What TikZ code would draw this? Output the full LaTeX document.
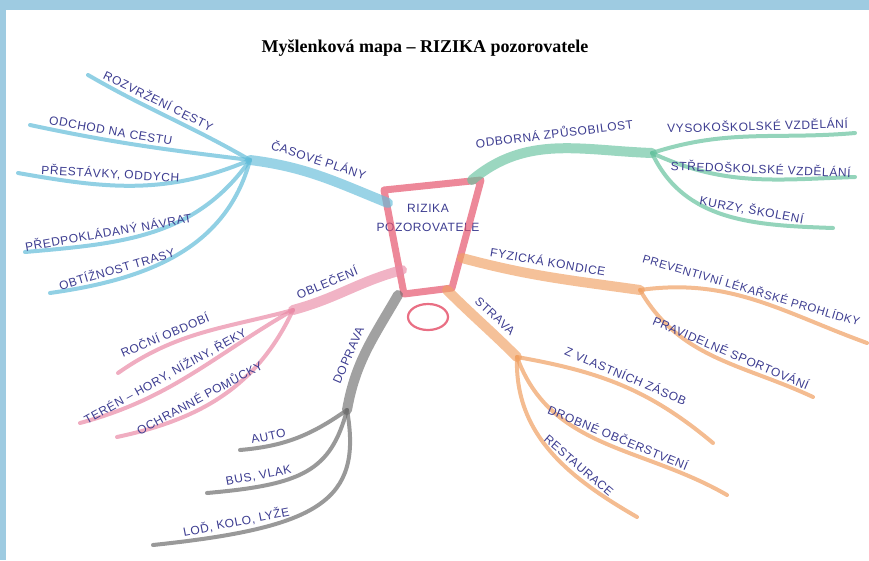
\documentclass[tikz,border=0pt]{standalone}
\usepackage{fontspec}
\setmainfont{Liberation Serif}
\newfontfamily\handfont[LetterSpace=5]{Liberation Sans}
\usetikzlibrary{positioning,calc}
\definecolor{framebg}{HTML}{9ECBE1}
\definecolor{ink}{HTML}{3C3C90}
\definecolor{mapblue}{HTML}{62BCD9}
\definecolor{mapgreen}{HTML}{66C29E}
\definecolor{maporange}{HTML}{F0A062}
\definecolor{mappink}{HTML}{E98AA6}
\definecolor{mapgray}{HTML}{6E6E6E}
\definecolor{mapred}{HTML}{E5566E}

\begin{document}
\begin{tikzpicture}[x=1pt, y=-1pt,
    hand/.style={font=\handfont\fontsize{12}{14}\selectfont, text=ink, inner sep=2pt},
    lab/.style={hand, pos=#1, above=1.5pt, sloped},
    tlab/.style={hand, pos=#1, above=3pt, sloped},
    trunk/.style={draw=#1, line width=10pt, line cap=round, draw opacity=0.65},
    twig/.style={draw=#1, line width=4pt, line cap=round, draw opacity=0.7},
]
\useasboundingbox (0,0) rectangle (869,560);

% === Frame and title ===
\fill[framebg] (0,0) rectangle (869,10);
\fill[framebg] (0,0) rectangle (6,560);
\node[font=\bfseries\fontsize{18}{20}\selectfont] (title) at (425,48) {Myšlenková mapa – RIZIKA pozorovatele};

% === Centre: RIZIKA pozorovatele ===
\node[hand, align=center] (rizika) at (428,218) {RIZIKA\\[5pt]POZOROVATELE};
\coordinate (tl) at (384,190);
\coordinate (tr) at (481,180);
\coordinate (br) at (452,288);
\coordinate (bl) at (404,294);
\draw[mapred, line width=7pt, draw opacity=0.7, line join=round] (tl) -- (tr) -- (br) -- (bl) -- cycle;
\draw[mapred, line width=2.2pt, draw opacity=0.85] (428,317) ellipse [x radius=20, y radius=13];

% branch roots on the centre
\coordinate (cBlue) at (388,203);
\coordinate (cGreen) at (472,180);
\coordinate (cFyz) at (462,258);
\coordinate (cStrava) at (447,290);
\coordinate (cPink) at (402,270);
\coordinate (cGray) at (398,295);

% === Blue: casove plany ===
\coordinate (hubBlue) at (250,160);
\coordinate (eRozvrzeni) at (88,75);
\coordinate (eOdchod) at (30,125);
\coordinate (ePrestavky) at (18,173);
\coordinate (eNavrat) at (25,252);
\coordinate (eObtiznost) at (50,293);
\draw[trunk=mapblue] (cBlue) to[out=158, in=-7] node[tlab=0.55] (casove) {ČASOVÉ PLÁNY} (hubBlue);
\draw[twig=mapblue] (hubBlue) to[out=150, in=-30] node[lab=0.6] (rozvrzeni) {ROZVRŽENÍ CESTY} (eRozvrzeni);
\draw[twig=mapblue] (hubBlue) to[out=173, in=-12] node[lab=0.65] (odchod) {ODCHOD NA CESTU} (eOdchod);
\draw[twig=mapblue] (hubBlue) to[out=203, in=-10] node[lab=0.62] (prestavky) {PŘESTÁVKY, ODDYCH} (ePrestavky);
\draw[twig=mapblue] (hubBlue) to[out=235, in=5] node[lab=0.68] (navrat) {PŘEDPOKLÁDANÝ NÁVRAT} (eNavrat);
\draw[twig=mapblue] (hubBlue) to[out=255, in=8] node[lab=0.74] (obtiznost) {OBTÍŽNOST TRASY} (eObtiznost);

% === Green: odborna zpusobilost ===
\coordinate (hubGreen) at (652,153);
\coordinate (eVysoka) at (855,133);
\coordinate (eStredni) at (855,177);
\coordinate (eKurzy) at (833,228);
\draw[trunk=mapgreen] (cGreen) to[out=40, in=178] node[hand, pos=0.5, above=3pt, rotate=7] (odborna) {ODBORNÁ ZPŮSOBILOST} (hubGreen);
\draw[twig=mapgreen] (hubGreen) to[out=18, in=185] node[lab=0.53] (vysokoskolske) {VYSOKOŠKOLSKÉ VZDĚLÁNÍ} (eVysoka);
\draw[twig=mapgreen] (hubGreen) to[out=-25, in=182] node[lab=0.55] (stredoskolske) {STŘEDOŠKOLSKÉ VZDĚLÁNÍ} (eStredni);
\draw[twig=mapgreen] (hubGreen) to[out=-65, in=178] node[lab=0.62] (kurzy) {KURZY, ŠKOLENÍ} (eKurzy);

% === Orange: fyzicka kondice, strava ===
\coordinate (hubFyz) at (640,290);
\coordinate (ePrevence) at (867,343);
\coordinate (eSport) at (813,397);
\coordinate (hubStrava) at (517,357);
\coordinate (eZasoby) at (713,443);
\coordinate (eDrobne) at (727,495);
\coordinate (eRestaurace) at (637,517);
\draw[trunk=maporange] (cFyz) to[out=-15, in=172] node[tlab=0.47] (fyzicka) {FYZICKÁ KONDICE} (hubFyz);
\draw[twig=maporange] (hubFyz) to[out=8, in=160] node[hand, pos=0.47, above=0pt, sloped, font=\handfont\fontsize{11.5}{13}\selectfont] (preventivni) {PREVENTIVNÍ LÉKAŘSKÉ PROHLÍDKY} (ePrevence);
\draw[twig=maporange] (hubFyz) to[out=-60, in=155] node[lab=0.57] (pravidelne) {PRAVIDELNÉ SPORTOVÁNÍ} (eSport);
\draw[trunk=maporange] (cStrava) to[out=-45, in=135] node[tlab=0.55] (strava) {STRAVA} (hubStrava);
\draw[twig=maporange] (hubStrava) to[out=-10, in=140] node[lab=0.5] (zasoby) {Z VLASTNÍCH ZÁSOB} (eZasoby);
\draw[twig=maporange] (hubStrava) to[out=-70, in=150] node[lab=0.55] (drobne) {DROBNÉ OBČERSTVENÍ} (eDrobne);
\draw[twig=maporange] (hubStrava) to[out=-92, in=150] node[lab=0.65] (restaurace) {RESTAURACE} (eRestaurace);

% === Pink: obleceni ===
\coordinate (hubPink) at (293,310);
\coordinate (eRocni) at (118,373);
\coordinate (eTeren) at (80,423);
\coordinate (eOchrana) at (117,437);
\draw[trunk=mappink] (cPink) to[out=195, in=15] node[tlab=0.65] (obleceni) {OBLEČENÍ} (hubPink);
\draw[twig=mappink] (hubPink) to[out=195, in=35] node[lab=0.7] (rocni) {ROČNÍ OBDOBÍ} (eRocni);
\draw[twig=mappink] (hubPink) to[out=210, in=15] node[lab=0.6] (teren) {TERÉN – HORY, NÍŽINY, ŘEKY} (eTeren);
\draw[twig=mappink] (hubPink) to[out=245, in=12] node[lab=0.6] (ochranne) {OCHRANNÉ POMŮCKY} (eOchrana);

% === Gray: doprava ===
\coordinate (hubGray) at (347,410);
\coordinate (eAuto) at (240,450);
\coordinate (eBus) at (207,493);
\coordinate (eLod) at (153,545);
\draw[trunk=mapgray] (cGray) to[out=240, in=80] node[tlab=0.6] (doprava) {DOPRAVA} (hubGray);
\draw[twig=mapgray] (hubGray) to[out=215, in=5] node[lab=0.75] (auto) {AUTO} (eAuto);
\draw[twig=mapgray] (hubGray) to[out=255, in=5, in looseness=1.5] node[lab=0.78] (bus) {BUS, VLAK} (eBus);
\draw[twig=mapgray] (hubGray) to[out=280, in=6, in looseness=1.8] node[lab=0.8] (lod) {LOĎ, KOLO, LYŽE} (eLod);

\end{tikzpicture}
\end{document}
